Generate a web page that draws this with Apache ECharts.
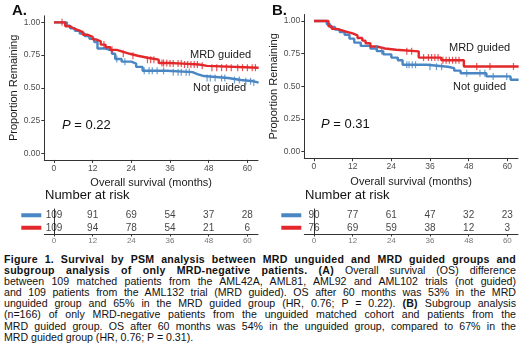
<!DOCTYPE html>
<html>
<head>
<meta charset="utf-8">
<script src="https://cdn.jsdelivr.net/npm/echarts@6/dist/echarts.min.js"></script>
<style>
html,body{margin:0;padding:0;background:#fff;}
#wrap{position:relative;width:520px;height:347px;overflow:hidden;}
#chart{position:absolute;left:0;top:0;width:520px;height:252px;}
#cap{position:absolute;left:4px;top:254px;width:512px;font-family:"Liberation Sans",Arial,sans-serif;font-size:10.6px;line-height:11.1px;color:#111;}
#cap div{text-align:justify;text-align-last:justify;}
#cap div.last{text-align-last:left;}
#cap b{letter-spacing:0.25px;}
</style>
</head>
<body>
<div id="wrap">
<div id="chart"></div>
<div id="cap">
<div><b>Figure 1. Survival by PSM analysis between MRD unguided and MRD guided groups and</b></div>
<div><b>subgroup analysis of only MRD-negative patients. (A)</b> Overall survival (OS) difference</div>
<div>between 109 matched patients from the AML42A, AML81, AML92 and AML102 trials (not guided)</div>
<div>and 109 patients from the AML132 trial (MRD guided). OS after 60 months was 53% in the MRD</div>
<div>unguided group and 65% in the MRD guided group (HR, 0.76; P = 0.22). <b>(B)</b> Subgroup analysis</div>
<div>(n=166) of only MRD-negative patients from the unguided matched cohort and patients from the</div>
<div>MRD guided group. OS after 60 months was 54% in the unguided group, compared to 67% in the</div>
<div class="last">MRD guided group (HR, 0.76; P = 0.31).</div>
</div>
</div>
<script>
// ---- Data ----
var xTicks = [0, 12, 24, 36, 48, 60];
var yTicks = [0, 0.25, 0.5, 0.75, 1];
var groups = ['Not guided', 'MRD guided'];

// Panel A: Kaplan-Meier step points (time in months, survival)
var aRedT  = [0, 3.5, 5, 6, 7.5, 9, 10.5, 12, 13, 14.5, 16, 17.5, 19.5, 21.5, 23.5, 26, 29, 32.5, 36, 40, 45, 47.5, 63.5];
var aRedS  = [1, 0.97, 0.955, 0.94, 0.925, 0.905, 0.89, 0.87, 0.855, 0.83, 0.81, 0.79, 0.775, 0.76, 0.745, 0.73, 0.715, 0.69, 0.685, 0.678, 0.668, 0.654, 0.654];
var aBlueT = [0, 4, 5, 6.5, 8, 9.5, 11, 12.5, 13.5, 16, 18, 19, 21, 24, 25.5, 27.5, 35, 43, 44.5, 46.5, 54, 58, 62, 63.5];
var aBlueS = [1, 0.975, 0.955, 0.935, 0.915, 0.895, 0.875, 0.85, 0.80, 0.785, 0.76, 0.72, 0.70, 0.685, 0.66, 0.63, 0.62, 0.605, 0.59, 0.575, 0.56, 0.55, 0.54, 0.54];
var aRedCens  = [2.5, 15.5, 18, 21.5, 24.5, 29, 30, 31, 33.5, 34, 35, 36, 37, 38.5, 39.5, 40.5, 41.5, 42.5, 43.5, 44.5, 46, 49, 50.5, 52, 53.5, 55, 57, 58.5, 60, 61.5, 62.5];
var aBlueCens = [19.5, 22, 28, 29.5, 30.5, 32, 34, 37, 38.5, 39.5, 41, 42, 47.5, 48.5, 50, 52, 53, 56, 57.5, 59.5, 61, 62];

// Panel B
var bRedT  = [0, 4.5, 5.5, 7, 8.5, 10, 12, 13.5, 15, 16, 17.5, 19.5, 22, 25.5, 32.5, 39.5, 46.5, 63.5];
var bRedS  = [1, 0.96, 0.94, 0.93, 0.918, 0.905, 0.89, 0.87, 0.85, 0.83, 0.805, 0.79, 0.78, 0.768, 0.72, 0.70, 0.652, 0.652];
var bBlueT = [0, 4, 5, 6.5, 8, 9.5, 11, 12.5, 14.5, 17.5, 19.5, 21.5, 24, 26, 27.5, 35, 41.5, 43.5, 45.5, 53.5, 61, 63.5];
var bBlueS = [1, 0.975, 0.955, 0.935, 0.915, 0.895, 0.865, 0.835, 0.81, 0.79, 0.77, 0.745, 0.72, 0.70, 0.665, 0.65, 0.64, 0.62, 0.60, 0.576, 0.55, 0.55];
var bRedCens  = [28.8, 30.3, 34, 35.5, 36.5, 37.5, 38.5, 40, 41, 42, 43, 44, 45, 50.5, 54.6, 61.9];
var bBlueCens = [19.4, 21, 28.8, 29.5, 30.5, 31.5, 36, 38, 39.6, 47.4, 51.5, 53, 55.6, 59.8];

// Number at risk
var aRiskBlue = [109, 91, 69, 54, 37, 28];
var aRiskRed  = [109, 94, 78, 54, 21, 6];
var bRiskBlue = [90, 77, 61, 47, 32, 23];
var bRiskRed  = [76, 69, 59, 38, 12, 3];

// ---- Styling ----
var RED = '#E4282A', BLUE = '#4A86C3';
var AX = '#333333', TXT = '#4D4D4D';
var FONT = '"Liberation Sans", Arial, sans-serif';

function pairs(T, S) { return T.map(function (t, i) { return [t, S[i]]; }); }
function survAt(T, S, t) { var v = S[0]; for (var i = 0; i < T.length; i++) { if (T[i] <= t) v = S[i]; } return v; }
function cens(T, S, C) { return C.map(function (t) { return [t, survAt(T, S, t)]; }); }
function riskData(blue, red) {
  var d = [];
  xTicks.forEach(function (t, i) { d.push([t, groups[0], blue[i]]); d.push([t, groups[1], red[i]]); });
  return d;
}

var grids = [
  { left: 44.3, top: 15.8, width: 213.7, height: 144.1 },
  { left: 304.3, top: 14.5, width: 213.7, height: 143.7 },
  { left: 44.3, top: 209, width: 213.7, height: 25 },
  { left: 304.3, top: 209, width: 213.7, height: 25 }
];

function mainX(gi) {
  return {
    type: 'value', gridIndex: gi, min: -3.0, max: 63.3,
    splitLine: { show: false },
    axisLine: { show: true, onZero: false, lineStyle: { color: AX, width: 1 } },
    axisTick: { show: true, length: 3, lineStyle: { color: AX }, customValues: xTicks },
    axisLabel: { color: TXT, fontSize: 8.5, fontFamily: FONT, margin: 4, customValues: xTicks },
    name: 'Overall survival (months)', nameLocation: 'middle', nameGap: 12,
    nameTextStyle: { color: '#1a1a1a', fontSize: 11, fontFamily: FONT }
  };
}
function mainY(gi) {
  return {
    type: 'value', gridIndex: gi, min: -0.05, max: 1.05,
    splitLine: { show: false },
    axisLine: { show: true, onZero: false, lineStyle: { color: AX, width: 1 } },
    axisTick: { show: true, length: 3, lineStyle: { color: AX }, customValues: yTicks },
    axisLabel: { color: TXT, fontSize: 8.5, fontFamily: FONT, margin: 4, customValues: yTicks,
      formatter: function (v) { return v.toFixed(2); } },
    name: 'Proportion Remaining', nameLocation: 'middle', nameGap: 23,
    nameTextStyle: { color: '#1a1a1a', fontSize: 11, fontFamily: FONT }
  };
}
function tableX(gi) {
  return {
    type: 'value', gridIndex: gi, min: -3.0, max: 63.3,
    splitLine: { show: false },
    axisLine: { show: true, onZero: false, lineStyle: { color: AX, width: 1 } },
    axisTick: { show: true, length: 2.5, lineStyle: { color: AX }, customValues: xTicks },
    axisLabel: { color: '#777', fontSize: 8, fontFamily: FONT, margin: 3, customValues: xTicks }
  };
}
function tableY(gi) {
  return {
    type: 'category', gridIndex: gi, data: groups, inverse: true,
    axisLine: { show: true, lineStyle: { color: AX, width: 1 } },
    axisTick: { show: false },
    axisLabel: { margin: 3, interval: 0, hideOverlap: false,
      formatter: function (v) { return v === groups[0] ? '{b|}' : '{r|}'; },
      rich: { b: { backgroundColor: BLUE, width: 20, height: 4, lineHeight: 4, fontSize: 2 },
              r: { backgroundColor: RED, width: 20, height: 4, lineHeight: 4, fontSize: 2 } } }
  };
}
function kmLine(gi, T, S, color) {
  return { type: 'line', xAxisIndex: gi, yAxisIndex: gi, data: pairs(T, S), step: 'end',
    showSymbol: false, symbol: 'none', lineStyle: { color: color, width: 2.4 }, clip: true, silent: true, z: 3 };
}
function censor(gi, T, S, C, color) {
  return { type: 'scatter', xAxisIndex: gi, yAxisIndex: gi, data: cens(T, S, C),
    symbol: 'rect', symbolSize: [1.2, 7], itemStyle: { color: color }, silent: true, z: 4 };
}
function risk(gi, blue, red) {
  return { type: 'scatter', xAxisIndex: gi, yAxisIndex: gi, data: riskData(blue, red),
    symbolSize: 0, silent: true,
    label: { show: true, position: 'inside', color: '#111', fontSize: 10, fontFamily: FONT,
      formatter: function (p) { return String(p.value[2]); } } };
}

function pText(v) { return '{i|P} = ' + v; }

var option = {
  backgroundColor: '#fff',
  animation: false,
  grid: grids,
  xAxis: [mainX(0), mainX(1), tableX(2), tableX(3)],
  yAxis: [mainY(0), mainY(1), tableY(2), tableY(3)],
  series: [
    kmLine(0, aBlueT, aBlueS, BLUE), kmLine(0, aRedT, aRedS, RED),
    censor(0, aBlueT, aBlueS, aBlueCens, BLUE), censor(0, aRedT, aRedS, aRedCens, RED),
    kmLine(1, bBlueT, bBlueS, BLUE), kmLine(1, bRedT, bRedS, RED),
    censor(1, bBlueT, bBlueS, bBlueCens, BLUE), censor(1, bRedT, bRedS, bRedCens, RED),
    risk(2, aRiskBlue, aRiskRed), risk(3, bRiskBlue, bRiskRed)
  ],
  graphic: [
    { type: 'text', left: 12, top: 3, style: { text: 'A.', font: 'bold 15px ' + FONT, fill: '#111' } },
    { type: 'text', left: 272, top: 3, style: { text: 'B.', font: 'bold 15px ' + FONT, fill: '#111' } },
    { type: 'text', left: 190, top: 49, style: { text: 'MRD guided', font: '11px ' + FONT, fill: '#1a1a1a' } },
    { type: 'text', left: 193, top: 82, style: { text: 'Not guided', font: '11px ' + FONT, fill: '#1a1a1a' } },
    { type: 'text', left: 449, top: 42, style: { text: 'MRD guided', font: '11px ' + FONT, fill: '#1a1a1a' } },
    { type: 'text', left: 453, top: 81, style: { text: 'Not guided', font: '11px ' + FONT, fill: '#1a1a1a' } },
    { type: 'text', left: 62, top: 119, style: { text: pText('0.22'), font: '13px ' + FONT, fill: '#111',
        rich: { i: { fontStyle: 'italic', fontSize: 13, fontFamily: FONT, fill: '#111' } } } },
    { type: 'text', left: 321, top: 118, style: { text: pText('0.31'), font: '13px ' + FONT, fill: '#111',
        rich: { i: { fontStyle: 'italic', fontSize: 13, fontFamily: FONT, fill: '#111' } } } },
    { type: 'text', left: 45, top: 189, style: { text: 'Number at risk', font: '13px ' + FONT, fill: '#111' } },
    { type: 'text', left: 305, top: 189, style: { text: 'Number at risk', font: '13px ' + FONT, fill: '#111' } }
  ]
};

var chart = echarts.init(document.getElementById('chart'), null, { renderer: 'canvas' });
chart.setOption(option);
</script>
</body>
</html>
